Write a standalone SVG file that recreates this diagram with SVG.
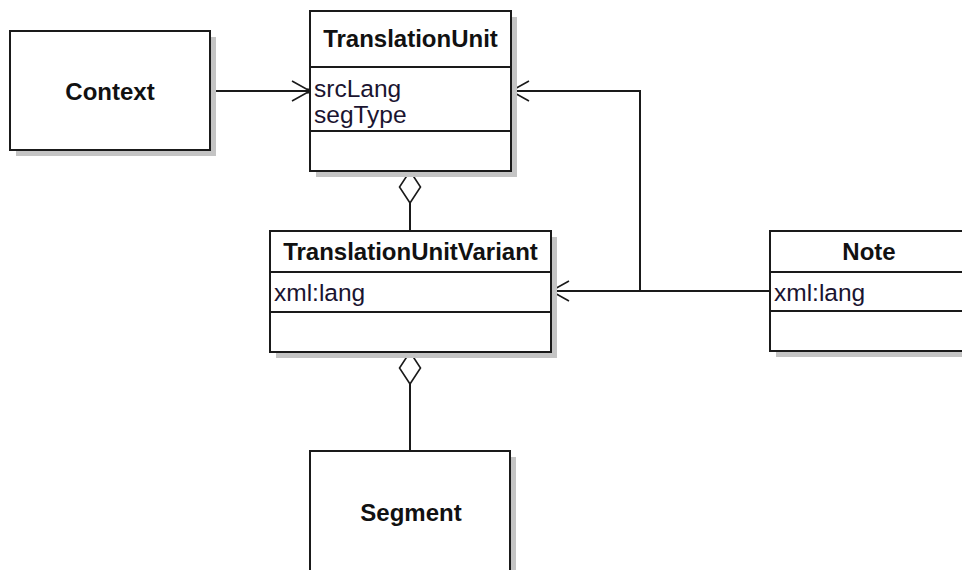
<svg xmlns="http://www.w3.org/2000/svg" width="962" height="570" viewBox="0 0 962 570">
<style>
.shadow{fill:#c4c4c4;stroke:none}
.box{fill:#ffffff;stroke:#1a1a1a;stroke-width:2}
.div{stroke:#1a1a1a;stroke-width:2}
.title{font-family:"Liberation Sans",Arial,sans-serif;font-weight:bold;font-size:24px;fill:#111;text-anchor:middle}
.attr{font-family:"Liberation Sans",Arial,sans-serif;font-size:24.5px;fill:#1a1430}
.conn{fill:none;stroke:#1a1a1a;stroke-width:2}
</style>
<defs>
<marker id="open" viewBox="-20 -12 22 24" refX="0" refY="0" markerWidth="22" markerHeight="24" markerUnits="userSpaceOnUse" orient="auto">
<path d="M -18 -10 L 0 0 L -18 10" fill="none" stroke="#1a1a1a" stroke-width="1.6"/>
<rect x="-3" y="-2.5" width="4" height="5" fill="#1a1a1a"/>
</marker>
<marker id="diamond" viewBox="-1 -12 35 24" refX="0" refY="0" markerWidth="35" markerHeight="24" markerUnits="userSpaceOnUse" orient="auto">
<path d="M 0 0 L 16 -10.5 L 32 0 L 16 10.5 Z" fill="#ffffff" stroke="#1a1a1a" stroke-width="1.6"/>
</marker>
</defs>
<g id="connectors">
<path class="conn" d="M 210 91 L 310 91" marker-end="url(#open)"/>
<path class="conn" d="M 410 171 L 410 231" marker-start="url(#diamond)"/>
<path class="conn" d="M 410 352 L 410 451" marker-start="url(#diamond)"/>
<path class="conn" d="M 770 291 L 551 291" marker-end="url(#open)"/>
<path class="conn" d="M 640 291 L 640 91 L 511 91" marker-end="url(#open)"/>
</g>
<g id="Context">
<rect class="shadow" x="16" y="37" width="200" height="119"/>
<rect class="box" x="10" y="31" width="200" height="119"/>
<text class="title" x="110" y="100">Context</text>
</g>
<g id="TranslationUnit">
<rect class="shadow" x="316" y="17" width="201" height="160"/>
<rect class="box" x="310" y="11" width="201" height="160"/>
<line class="div" x1="310" y1="67" x2="511" y2="67"/>
<line class="div" x1="310" y1="131" x2="511" y2="131"/>
<text class="title" x="410.5" y="47">TranslationUnit</text>
<text class="attr" x="314" y="97">srcLang</text>
<text class="attr" x="314" y="123">segType</text>
</g>
<g id="TranslationUnitVariant">
<rect class="shadow" x="276" y="237" width="281" height="121"/>
<rect class="box" x="270" y="231" width="281" height="121"/>
<line class="div" x1="270" y1="272" x2="551" y2="272"/>
<line class="div" x1="270" y1="312" x2="551" y2="312"/>
<text class="title" x="410.5" y="260">TranslationUnitVariant</text>
<text class="attr" x="274" y="301">xml:lang</text>
</g>
<g id="Note">
<rect class="shadow" x="776" y="237" width="198" height="120"/>
<rect class="box" x="770" y="231" width="198" height="120"/>
<line class="div" x1="770" y1="272" x2="968" y2="272"/>
<line class="div" x1="770" y1="311" x2="968" y2="311"/>
<text class="title" x="869" y="260">Note</text>
<text class="attr" x="774" y="301">xml:lang</text>
</g>
<g id="Segment">
<rect class="shadow" x="316" y="457" width="200" height="130"/>
<rect class="box" x="310" y="451" width="200" height="130"/>
<text class="title" x="411" y="521">Segment</text>
</g>
</svg>
